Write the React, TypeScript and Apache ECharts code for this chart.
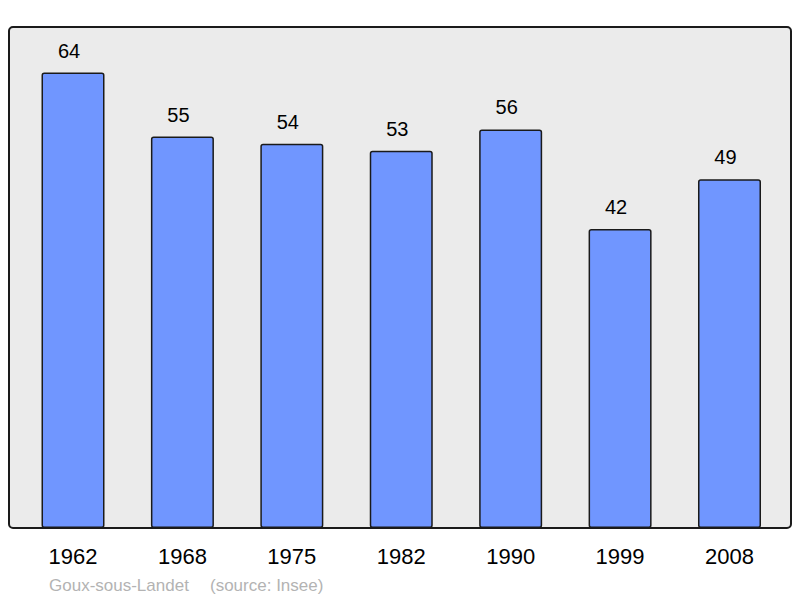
import * as echarts from 'echarts';
import { useEffect, useRef } from 'react';

const years = ['1962', '1968', '1975', '1982', '1990', '1999', '2008'];
const population = [64, 55, 54, 53, 56, 42, 49];
const townName = 'Goux-sous-Landet';
const sourceNote = '(source: Insee)';

export default function App() {
  const chartRef = useRef<HTMLDivElement>(null);

  useEffect(() => {
    if (!chartRef.current) return;
    document.body.style.margin = '0';
    const chart = echarts.init(chartRef.current, null, { renderer: 'svg' });

    const option = {
      animation: false,
      textStyle: { fontFamily: 'Liberation Sans, Arial, sans-serif' },
      graphic: [
        {
          type: 'rect',
          z: -10,
          shape: { x: 9, y: 27, width: 782, height: 501, r: 4 },
          style: { fill: '#ebebeb', stroke: '#1a1a1a', lineWidth: 2 },
        },
        {
          type: 'text',
          x: 49,
          y: 585,
          style: {
            text: townName,
            fill: '#b3b3b3',
            font: '17px Liberation Sans, Arial, sans-serif',
            verticalAlign: 'middle',
          },
        },
        {
          type: 'text',
          x: 210,
          y: 585,
          style: {
            text: sourceNote,
            fill: '#b3b3b3',
            font: '17px Liberation Sans, Arial, sans-serif',
            verticalAlign: 'middle',
          },
        },
      ],
      grid: { left: 18.3, right: 15.8, top: 27, bottom: 70 },
      xAxis: {
        type: 'category',
        data: years,
        axisLine: { show: false },
        axisTick: { show: false },
        axisLabel: { color: '#000', fontSize: 22, margin: 17 },
      },
      yAxis: {
        type: 'value',
        min: 0,
        max: 70.4,
        show: false,
        splitLine: { show: false },
      },
      series: [
        {
          type: 'bar',
          data: population,
          barWidth: 63,
          itemStyle: {
            color: '#7096ff',
            borderColor: '#1a1a1a',
            borderWidth: 1.5,
            borderRadius: 2,
          },
          label: {
            show: true,
            position: 'top',
            distance: 12,
            offset: [-4, 0],
            color: '#000',
            fontSize: 20,
          },
        },
      ],
    };

    chart.setOption(option);
    return () => chart.dispose();
  }, []);

  return <div ref={chartRef} style={{ width: '800px', height: '598px' }} />;
}
